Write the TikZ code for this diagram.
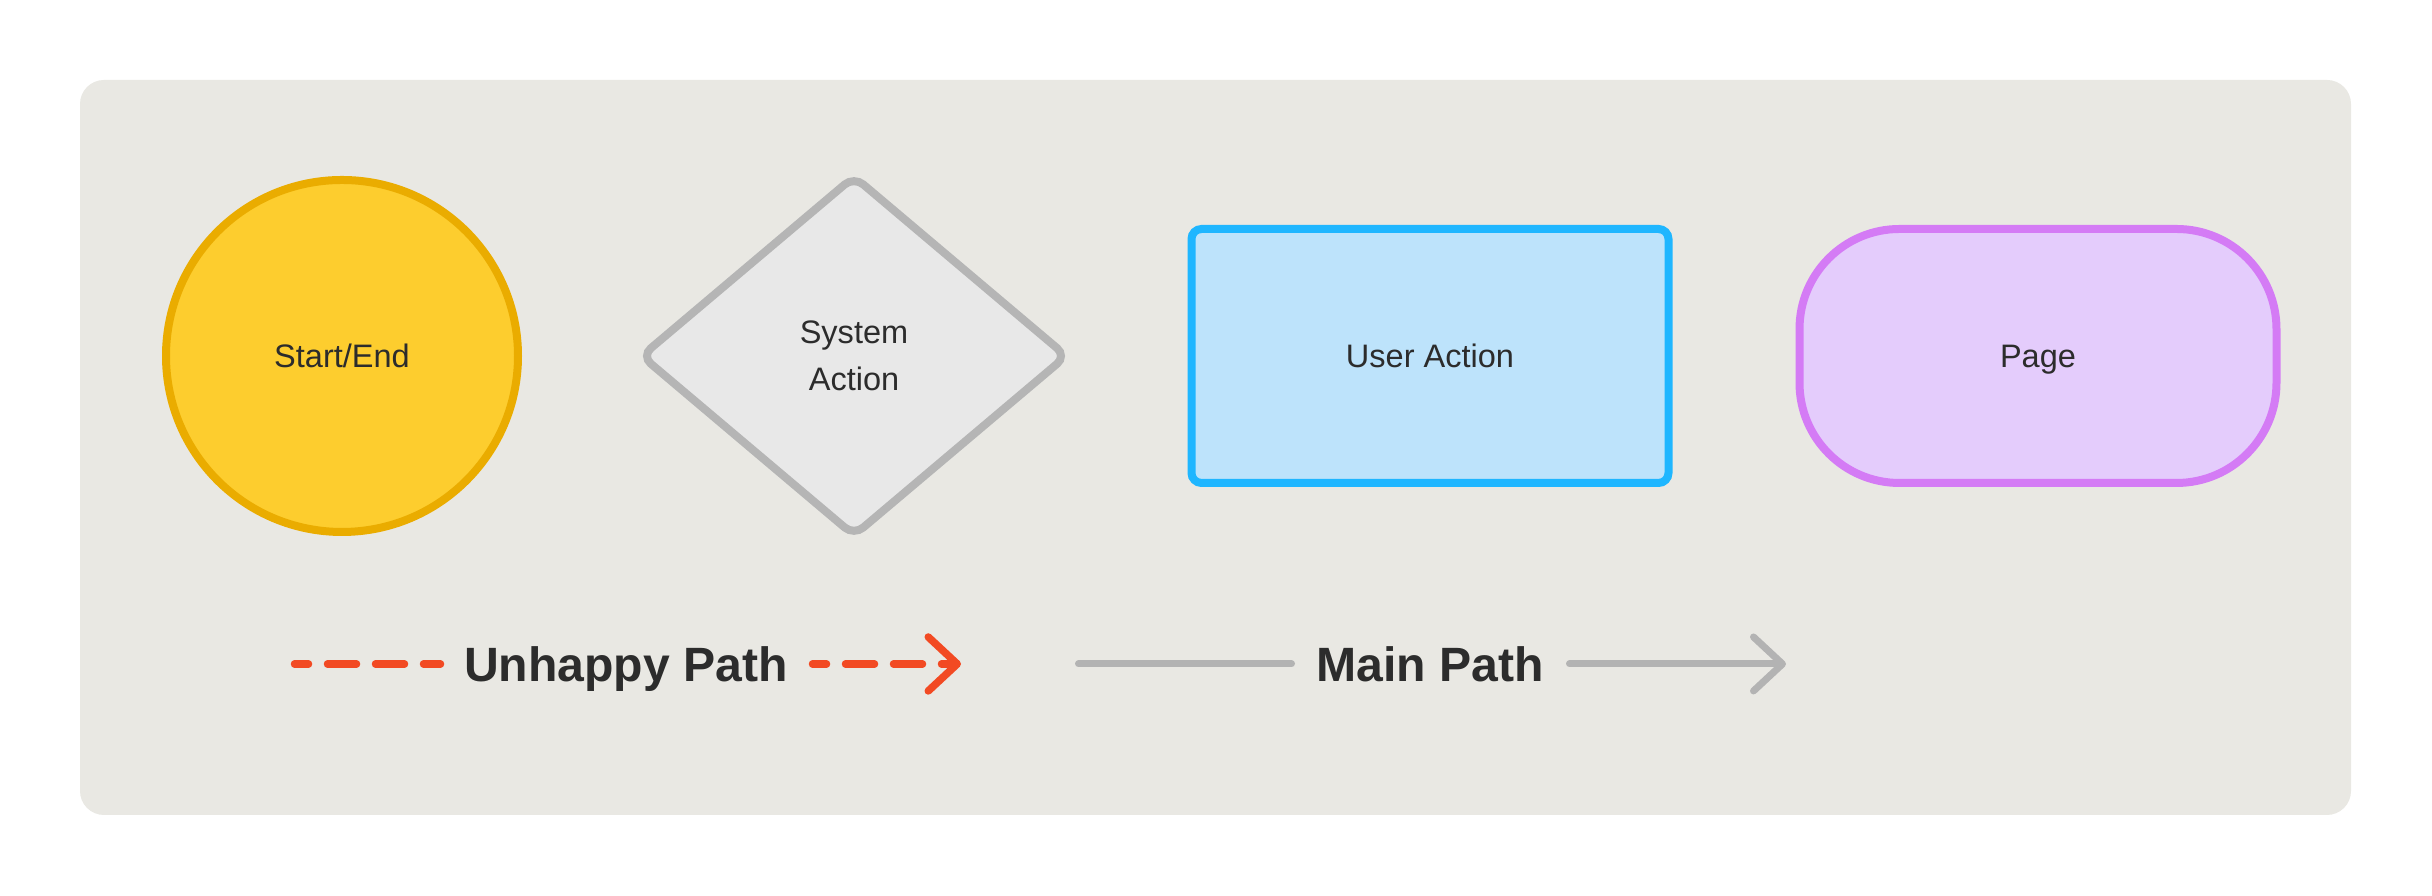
\documentclass[tikz,border=0pt]{standalone}
\usepackage{fontspec}
\setmainfont{Liberation Sans}
\usetikzlibrary{shapes.geometric,arrows.meta}
\definecolor{bggray}{HTML}{E9E8E3}
\definecolor{inkgray}{HTML}{2C2C2C}
\definecolor{startfill}{HTML}{FDCD2E}
\definecolor{startline}{HTML}{EAAC00}
\definecolor{sysfill}{HTML}{E8E8E8}
\definecolor{sysline}{HTML}{B5B5B5}
\definecolor{userfill}{HTML}{BDE3FB}
\definecolor{userline}{HTML}{1FB6FF}
\definecolor{pagefill}{HTML}{E4CCFC}
\definecolor{pageline}{HTML}{D47BF5}
\definecolor{unhappyred}{HTML}{F24A23}
\definecolor{mainlinegray}{HTML}{B3B3B3}
\tikzset{
  shapelabel/.style={font=\fontsize{9.25}{13.4}\selectfont,text=inkgray,line width=0.08cm},
  oneline/.style={text height=6.6pt,text depth=0pt},
  startend/.style={circle,draw=startline,fill=startfill,minimum size=3.52cm,shapelabel,oneline},
  sysaction/.style={diamond,draw=sysline,fill=sysfill,minimum width=4.28cm,minimum height=3.62cm,rounded corners=0.12cm,align=center,shapelabel},
  useraction/.style={rectangle,draw=userline,fill=userfill,minimum width=4.77cm,minimum height=2.54cm,rounded corners=0.1cm,shapelabel,oneline},
  pagebox/.style={rectangle,draw=pageline,fill=pagefill,minimum width=4.77cm,minimum height=2.54cm,rounded corners=1.0cm,shapelabel,oneline},
  pathlabel/.style={font=\fontsize{13.7}{16}\selectfont\bfseries,text=inkgray,anchor=base,inner sep=0pt},
  pathtip/.style={-{Straight Barb[length=0.29cm,width=0.54cm,round]}},
  unhappyline/.style={draw=unhappyred,line width=0.075cm,line cap=round,dash pattern=on 0.29cm off 0.19cm,dash phase=0.15cm},
  mainline/.style={draw=mainlinegray,line width=0.07cm,line cap=round}
}
\begin{document}
\begin{tikzpicture}
      \fill[white] (0,0) rectangle (24.32,8.96);
      \fill[bggray,rounded corners=0.24cm] (0.80,0.81) rectangle (23.51,8.16);
      \node[startend] (start) at (3.42,5.40) {Start/End};
      \node[sysaction] (system) at (8.54,5.40) {System\\Action};
      \node[useraction] (user) at (14.30,5.40) {User Action};
      \node[pagebox] (page) at (20.38,5.40) {Page};
      \node[pathlabel] (unhappy) at (6.26,2.14) {Unhappy Path};
      \coordinate (ua) at (2.945,2.32);
      \coordinate (ub) at (4.405,2.32);
      \coordinate (uc) at (8.125,2.32);
      \coordinate (ud) at (9.61,2.32);
      \draw[unhappyline] (ua) -- (ub);
      \draw[unhappyline,pathtip] (uc) -- (ud);
      \node[pathlabel] (main) at (14.30,2.14) {Main Path};
      \coordinate (ma) at (10.785,2.32);
      \coordinate (mb) at (12.915,2.32);
      \coordinate (mc) at (15.695,2.32);
      \coordinate (md) at (17.86,2.32);
      \draw[mainline] (ma) -- (mb);
      \draw[mainline,pathtip] (mc) -- (md);
\end{tikzpicture}
\end{document}
